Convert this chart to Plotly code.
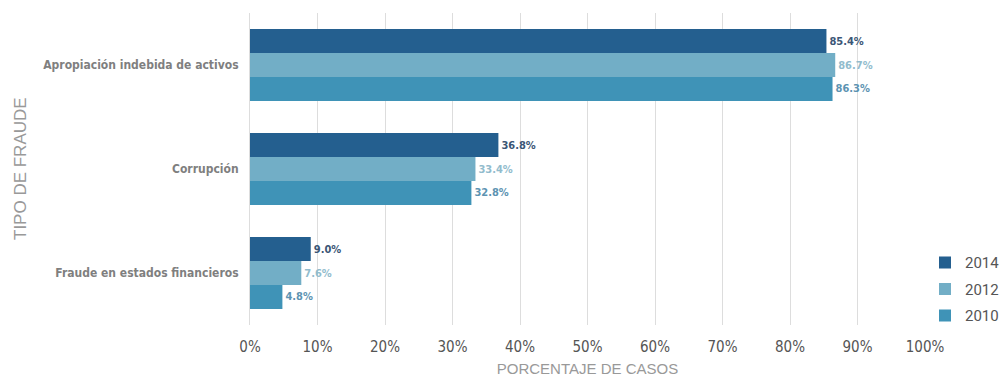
import plotly.graph_objects as go

categories = ["Apropiación indebida de activos", "Corrupción", "Fraude en estados financieros"]
years = ["2014", "2012", "2010"]
values_2014 = [85.4, 36.8, 9.0]
values_2012 = [86.7, 33.4, 7.6]
values_2010 = [86.3, 32.8, 4.8]
x_ticks = [0, 10, 20, 30, 40, 50, 60, 70, 80, 90, 100]
x_tick_labels = [f"{v}%" for v in x_ticks]

series = [values_2014, values_2012, values_2010]
bar_colors = ["#245f8f", "#72aec6", "#3f93b7"]
label_colors = ["#3b5676", "#92bccd", "#5d93b2"]

COND = "DejaVu Sans Condensed, Roboto, sans-serif"

fig = go.Figure()
for year, vals, col, lcol in zip(years, series, bar_colors, label_colors):
    fig.add_trace(go.Bar(
        y=categories, x=vals, name=year, orientation="h", legendgroup=year,
        marker=dict(color=col, line=dict(width=0)),
        text=[f"{v:.1f}%" for v in vals], textposition="outside",
        textfont=dict(family=COND, size=11, color=lcol, weight="bold"),
        cliponaxis=False,
    ))

fig.update_layout(
    width=1003, height=379,
    margin=dict(l=250, r=78, t=13, b=54, autoexpand=False),
    paper_bgcolor="white", plot_bgcolor="white",
    barmode="group", bargap=0.31, bargroupgap=0,
    showlegend=True,
    legend=dict(x=1.0, y=-0.023, xanchor="left", yanchor="bottom",
                font=dict(family="Roboto, sans-serif", size=15, color="#555555"),
                itemwidth=30, traceorder="grouped", tracegroupgap=4,
                bgcolor="rgba(0,0,0,0)"),
    xaxis=dict(range=[0, 100], tickvals=x_ticks, ticktext=x_tick_labels,
               showgrid=True, gridcolor="#dddddd", gridwidth=1, zeroline=False,
               showline=False,
               tickfont=dict(family=COND, size=15, color="#555555"),
               ticks="outside", ticklen=8, tickcolor="rgba(0,0,0,0)",
               title=dict(text="PORCENTAJE DE CASOS", standoff=8,
                          font=dict(family="Liberation Sans", size=15, color="#999999"))),
    yaxis=dict(autorange="reversed", showgrid=False, showline=True, linecolor="#dddddd",
               linewidth=1,
               tickfont=dict(family=COND, size=12, color="#7f7f7f", weight="bold"),
               ticks="outside", ticklen=8, tickcolor="rgba(0,0,0,0)"),
    annotations=[dict(text="TIPO DE FRAUDE", textangle=-90, xref="paper", yref="paper",
                      x=(20 - 250) / 675, y=0.5, xanchor="center", yanchor="middle",
                      showarrow=False,
                      font=dict(family="Liberation Sans", size=17, color="#999999"))],
)

fig.write_html("out.html")
